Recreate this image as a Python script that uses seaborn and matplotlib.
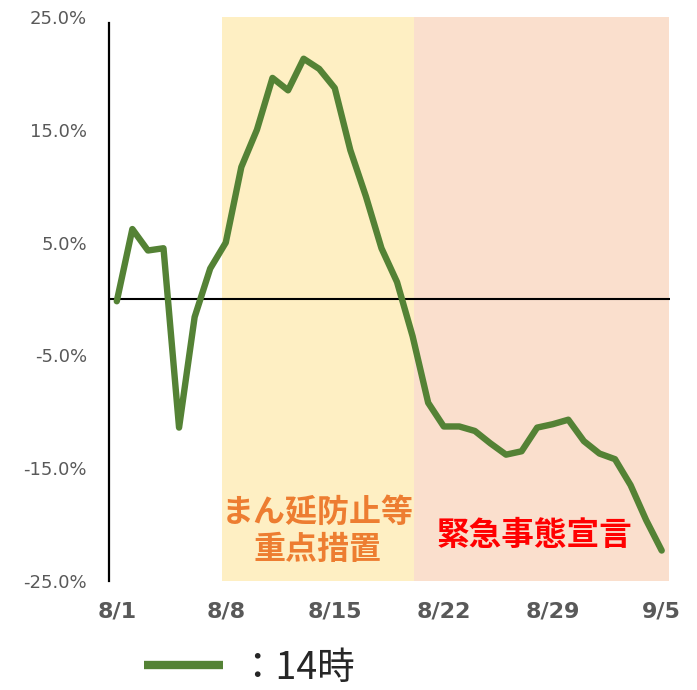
import matplotlib
matplotlib.use("Agg")
import matplotlib.pyplot as plt
from matplotlib.lines import Line2D
import seaborn as sns
import pandas as pd
import numpy as np

# ---- data ----
dates = ["8/1", "8/2", "8/3", "8/4", "8/5", "8/6", "8/7", "8/8", "8/9", "8/10",
         "8/11", "8/12", "8/13", "8/14", "8/15", "8/16", "8/17", "8/18", "8/19", "8/20",
         "8/21", "8/22", "8/23", "8/24", "8/25", "8/26", "8/27", "8/28", "8/29", "8/30",
         "8/31", "9/1", "9/2", "9/3", "9/4", "9/5"]
values_14h = [-0.2, 6.2, 4.3, 4.5, -11.4, -1.6, 2.7, 5.0, 11.7, 15.0,
              19.6, 18.5, 21.3, 20.4, 18.7, 13.2, 9.1, 4.5, 1.5, -3.3,
              -9.2, -11.3, -11.3, -11.7, -12.8, -13.8, -13.5, -11.4, -11.1, -10.7,
              -12.6, -13.7, -14.2, -16.5, -19.6, -22.3]
xtick_labels = ["8/1", "8/8", "8/15", "8/22", "8/29", "9/5"]
ytick_values = [25, 15, 5, -5, -15, -25]
# periods as (start, end) in day-index units
period_names = ["まん延防止等\n重点措置", "緊急事態宣言"]
period_start = [6.76, 19.07]
period_end = [19.07, 35.5]
series_name = "：14時"

df = pd.DataFrame({"idx": np.arange(len(dates)), "date": dates, "val": values_14h})

sns.set_style("white")
plt.rcParams["font.family"] = ["DejaVu Sans", "Noto Sans CJK JP"]

W, H = 697, 690
fig = plt.figure(figsize=(W / 100, H / 100), dpi=100)
ax = fig.add_axes([109 / W, 1 - 581 / H, (669.5 - 109) / W, (581 - 17) / H])

green = "#548235"
span_colors = ["#FEEFC3", "#FADFCD"]
text_colors = ["#ED7D31", "#FF0000"]

for s, e, c in zip(period_start, period_end, span_colors):
    ax.axvspan(s, e, color=c, lw=0, zorder=0)

ax.axhline(0, color="black", lw=1.5, zorder=2)

sns.lineplot(data=df, x="idx", y="val", ax=ax, color=green, lw=4.6,
             solid_joinstyle="round", solid_capstyle="round", zorder=3, legend=False)

ax.set_xlim(-0.5, len(dates) - 0.5)
ax.set_ylim(-25, 25)
ax.set_xlabel("")
ax.set_ylabel("")

xt = [dates.index(l) for l in xtick_labels]
ax.set_xticks(xt)
ax.set_xticklabels(xtick_labels, fontsize=16, fontweight="bold", color="#595959")
ax.set_yticks(ytick_values)
ax.set_yticklabels([f"{v:.1f}%" for v in ytick_values], fontsize=13, color="#595959")
ax.tick_params(axis="x", length=0, pad=15)
ax.tick_params(axis="y", length=0, pad=16)

for side in ["top", "right", "bottom"]:
    ax.spines[side].set_visible(False)
ax.spines["left"].set_color("black")
ax.spines["left"].set_linewidth(1.6)
ax.spines["left"].set_bounds(-25, 24.5)
ax.grid(False)

# period labels
ax.text(12.9, -20.6, period_names[0], ha="center", va="center", fontsize=23,
        fontweight="bold", color=text_colors[0], family="Noto Sans CJK JP",
        linespacing=1.17, zorder=4)
ax.text(26.8, -21.0, period_names[1], ha="center", va="center", fontsize=23.5,
        fontweight="bold", color=text_colors[1], family="Noto Sans CJK JP", zorder=4)

handle = Line2D([], [], color=green, lw=6, solid_capstyle="butt")
leg = ax.legend(handles=[handle], labels=[series_name], loc="center left",
                bbox_to_anchor=(144 / W, 1 - 668 / H), bbox_transform=fig.transFigure,
                frameon=False, borderpad=0, borderaxespad=0,
                handlelength=2.1, handletextpad=0.4,
                prop={"family": ["Noto Sans CJK JP"], "size": 27})

fig.savefig("out.png", dpi=100)
